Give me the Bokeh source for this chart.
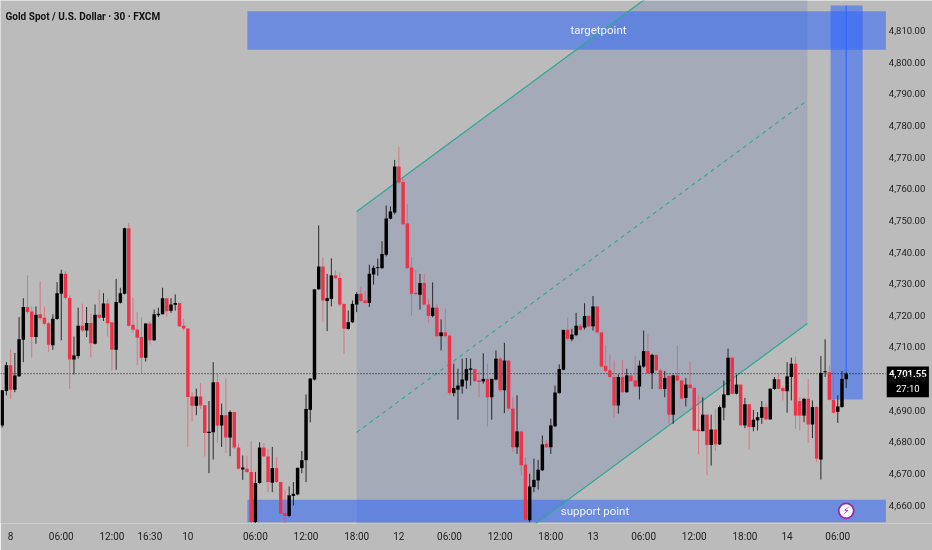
from bokeh.plotting import figure
from bokeh.embed import file_html
from bokeh.resources import INLINE
from bokeh.models import FixedTicker, Label, LinearAxis, Range1d, NumeralTickFormatter
from bokeh.core.properties import value

FONT = "Roboto"

directions = ("BBRBBBRRBR" "RRBBBRRBBR" "BRBRBRRBBB" "RRRRBRBBBR" "BBRRRRBRRB"
              "BRBRBRRBRR" "BBRRBRRRBB" "BBBBBBRBBR" "RRBBBRRBBB" "BBBBRRRRRB"
              "RRBRBRRBBB" "BBRRBRBBRB" "RRBRRBBBBR" "BBBBRBBRBR" "BRRRRRBRBR"
              "RBBRBRRBRB" "RRBRRRBRBR" "BBBRBRBRBB" "BRBBRRBBRR" "BRBRBBRRBBB")

body_tops = [
 4696.3,4704.2,4704.2,4701.0,4712.4,4722.6,4722.6,4721.2,4720.2,4720.3,
 4719.2,4717.5,4718.9,4727.0,4733.1,4733.1,4725.5,4707.3,4716.7,4716.7,
 4717.6,4717.6,4720.2,4720.2,4723.7,4723.7,4717.8,4724.2,4727.0,4747.5,
 4747.5,4717.0,4715.5,4713.1,4717.4,4717.4,4720.3,4720.5,4725.4,4725.4,
 4723.4,4723.9,4723.9,4716.7,4715.8,4694.3,4694.3,4694.3,4691.6,4683.2,
 4698.8,4698.8,4688.4,4688.4,4689.4,4689.4,4678.2,4671.9,4671.5,4670.5,
 4667.0,4678.2,4678.2,4675.4,4671.7,4671.7,4667.3,4657.5,4663.1,4663.6,
 4671.8,4674.2,4690.4,4700.0,4728.2,4735.4,4735.4,4725.4,4732.6,4732.6,
 4731.8,4723.6,4717.8,4723.6,4726.7,4726.8,4724.7,4733.1,4735.0,4735.2,
 4739.4,4750.6,4752.8,4767.0,4767.0,4762.1,4749.0,4735.1,4727.1,4730.2,
 4730.2,4723.4,4722.4,4722.4,4714.6,4714.6,4713.6,4697.0,4697.8,4699.7,
 4703.0,4703.2,4703.0,4699.4,4699.9,4699.9,4699.9,4706.3,4706.3,4705.7,
 4705.7,4690.5,4683.3,4683.3,4672.8,4665.9,4668.0,4671.2,4679.2,4679.4,
 4685.2,4695.6,4703.0,4715.4,4715.4,4713.9,4716.7,4716.7,4719.8,4719.8,
 4722.8,4722.8,4714.6,4704.0,4702.6,4700.5,4700.5,4700.5,4701.0,4701.0,
 4699.4,4704.1,4708.7,4708.7,4707.5,4707.5,4702.6,4700.2,4700.8,4701.0,
 4701.0,4699.4,4698.1,4698.1,4697.1,4683.9,4688.6,4688.6,4683.9,4683.9,
 4691.0,4695.0,4706.6,4706.6,4698.1,4698.1,4691.9,4691.9,4687.0,4687.8,
 4691.0,4691.0,4696.8,4699.8,4699.8,4697.0,4700.7,4704.7,4704.7,4692.9,
 4693.6,4693.6,4691.0,4691.0,4701.8,4702.3,4702.0,4693.3,4691.2,4699.9,4701.55]

body_bottoms = [
 4685.2,4696.1,4696.5,4696.5,4700.7,4712.3,4721.0,4713.1,4713.1,4719.1,
 4717.3,4710.7,4710.5,4718.8,4726.8,4725.5,4706.0,4706.0,4707.1,4715.2,
 4715.2,4711.2,4711.0,4719.2,4719.2,4717.5,4709.1,4709.1,4724.0,4726.8,
 4716.7,4715.4,4712.9,4706.6,4706.6,4712.1,4712.1,4720.0,4720.3,4721.3,
 4721.4,4723.3,4716.5,4715.8,4694.2,4691.4,4691.4,4691.5,4682.8,4682.8,
 4683.0,4685.2,4685.2,4681.4,4681.4,4678.2,4671.5,4671.3,4670.5,4654.7,
 4654.7,4667.0,4675.4,4667.3,4667.1,4667.3,4657.3,4656.6,4656.6,4662.9,
 4663.4,4671.7,4674.2,4690.1,4699.7,4728.2,4724.7,4724.5,4725.2,4731.7,
 4723.4,4715.8,4715.7,4717.8,4723.4,4724.5,4723.9,4723.9,4732.9,4734.9,
 4734.9,4739.1,4750.5,4752.5,4762.0,4748.8,4734.9,4726.8,4726.7,4726.5,
 4723.4,4719.8,4719.8,4713.4,4713.4,4713.4,4695.4,4695.4,4696.5,4697.5,
 4699.4,4702.8,4699.2,4698.9,4699.1,4694.1,4694.1,4699.7,4696.3,4696.3,
 4690.5,4678.3,4678.3,4672.6,4655.4,4655.2,4665.7,4667.8,4671.0,4678.3,
 4678.3,4684.9,4695.4,4702.8,4712.6,4712.4,4713.7,4715.4,4716.1,4716.5,
 4716.5,4714.6,4703.8,4702.4,4700.5,4691.5,4691.5,4695.7,4695.7,4699.2,
 4697.5,4697.5,4703.8,4701.7,4701.7,4702.6,4696.7,4696.7,4688.6,4688.6,
 4699.4,4693.7,4693.9,4697.0,4683.6,4683.4,4683.4,4679.0,4679.0,4679.2,
 4679.2,4690.8,4694.8,4695.2,4695.2,4685.2,4685.2,4684.7,4684.7,4686.8,
 4687.6,4687.1,4687.1,4696.7,4696.8,4696.0,4696.0,4700.5,4688.3,4688.3,
 4688.3,4685.5,4685.5,4674.7,4674.4,4702.0,4693.3,4689.2,4689.5,4691.0,4699.8]

highs = [
 4696.3,4705.2,4709.2,4708.1,4719.4,4725.4,4732.6,4722.8,4722.8,4730.7,
 4722.8,4717.9,4720.3,4730.5,4734.4,4734.0,4726.3,4713.3,4722.4,4723.7,
 4722.6,4720.5,4723.4,4728.1,4727.0,4725.2,4717.8,4731.5,4728.7,4747.7,
 4749.2,4725.5,4721.0,4719.4,4717.4,4718.2,4721.8,4722.4,4728.7,4725.4,
 4725.4,4726.6,4723.9,4718.9,4715.8,4695.7,4696.8,4698.6,4691.6,4692.9,
 4705.2,4701.5,4692.1,4700.0,4689.9,4689.4,4679.4,4675.7,4675.7,4680.2,
 4670.5,4679.9,4679.7,4677.8,4678.4,4675.2,4667.3,4664.7,4665.9,4667.3,
 4671.8,4677.1,4695.0,4700.2,4728.2,4748.4,4738.2,4733.1,4738.0,4734.2,
 4733.6,4723.6,4721.5,4724.7,4727.3,4729.1,4727.8,4736.0,4735.7,4737.9,
 4743.4,4754.7,4754.4,4769.1,4773.3,4763.1,4755.2,4738.4,4734.2,4733.1,
 4733.1,4725.2,4730.4,4723.4,4718.7,4722.1,4713.6,4704.7,4703.1,4706.3,
 4706.5,4706.3,4703.0,4702.6,4708.0,4704.7,4699.9,4708.9,4706.8,4711.3,
 4705.7,4694.1,4694.7,4683.3,4675.2,4669.9,4674.7,4674.3,4682.0,4680.7,
 4687.3,4697.8,4704.5,4715.4,4719.2,4715.7,4720.8,4717.3,4723.8,4719.9,
 4726.1,4722.8,4714.6,4710.5,4707.6,4705.7,4701.3,4705.9,4703.1,4701.2,
 4707.0,4705.7,4715.2,4714.1,4707.8,4707.5,4703.1,4702.4,4701.3,4701.2,
 4710.5,4699.6,4700.2,4705.4,4697.1,4694.7,4694.1,4688.6,4688.6,4690.5,
 4691.5,4699.4,4709.5,4707.0,4701.2,4698.1,4693.9,4691.9,4690.1,4689.4,
 4692.9,4692.2,4696.8,4700.5,4701.7,4697.5,4705.2,4706.6,4707.0,4694.1,
 4693.9,4699.8,4693.1,4691.4,4707.1,4712.4,4704.1,4702.6,4694.7,4702.4,4702.0]

lows = [
 4684.5,4694.7,4693.6,4695.7,4700.5,4705.2,4720.5,4706.6,4711.0,4718.4,
 4716.8,4708.4,4709.1,4718.6,4712.1,4725.0,4696.8,4701.3,4706.3,4714.7,
 4713.1,4706.8,4710.8,4718.9,4718.2,4713.3,4702.6,4702.8,4723.7,4726.6,
 4716.3,4714.7,4704.2,4701.7,4705.4,4710.8,4711.9,4719.4,4720.3,4719.6,
 4720.8,4721.5,4716.3,4715.2,4678.4,4686.6,4688.4,4690.5,4675.4,4670.1,
 4674.4,4679.6,4678.4,4676.5,4675.5,4677.8,4671.2,4668.0,4670.1,4654.3,
 4654.3,4666.8,4675.2,4664.1,4664.1,4667.0,4657.1,4654.3,4656.2,4659.9,
 4663.1,4670.1,4667.3,4686.2,4699.4,4728.1,4717.8,4715.0,4722.8,4731.5,
 4722.8,4707.8,4715.5,4717.6,4721.0,4724.2,4723.6,4722.6,4729.7,4732.5,
 4734.7,4738.6,4750.3,4751.9,4761.5,4748.4,4734.7,4719.9,4726.3,4721.8,
 4723.1,4717.8,4719.4,4713.1,4708.9,4713.1,4694.7,4694.4,4687.0,4695.2,
 4696.8,4697.8,4698.9,4694.1,4698.4,4684.9,4687.0,4699.4,4695.7,4689.1,
 4689.9,4676.8,4676.2,4669.4,4655.0,4654.6,4664.1,4664.9,4670.8,4678.1,
 4676.2,4684.7,4695.2,4702.6,4712.0,4711.8,4713.4,4715.2,4715.5,4716.3,
 4715.2,4714.2,4703.6,4702.0,4700.2,4687.6,4688.9,4695.5,4695.5,4699.0,
 4697.3,4693.4,4703.4,4701.5,4696.7,4702.4,4696.5,4694.1,4685.7,4685.7,
 4699.2,4693.4,4691.2,4696.8,4683.4,4676.0,4683.3,4669.4,4672.5,4677.1,
 4679.0,4686.8,4694.6,4695.0,4695.0,4685.0,4684.3,4677.5,4683.4,4683.6,
 4685.7,4686.8,4687.0,4696.5,4696.6,4693.1,4689.2,4693.1,4684.1,4683.6,
 4686.2,4679.6,4681.2,4673.6,4668.1,4700.5,4693.1,4688.9,4686.0,4690.8,4697.0]

price_ticks = [4660, 4670, 4680, 4690, 4700, 4710, 4720, 4730, 4740, 4750, 4760, 4770, 4780, 4790, 4800, 4810]
time_ticks = [2, 14, 26, 35, 44, 60, 72, 84, 94, 106, 118, 130, 140, 152, 164, 176, 186, 198]
time_labels = ["8", "06:00", "12:00", "16:30", "10", "06:00", "12:00", "18:00", "12", "06:00",
               "12:00", "18:00", "13", "06:00", "12:00", "18:00", "14", "06:00"]

last_price = 4701.55
price_scale_edge = 209.4
channel_x = [84.0, 190.8]
channel_upper = [4752.8, 4857.7]
channel_middle = [4683.0, 4787.9]
channel_lower = [4612.5, 4717.4]
target_zone = (58.1, 209.4, 4803.9, 4816.1)
support_zone = (58.1, 209.4, 4654.6, 4661.7)
vertical_zone = (196.3, 203.9, 4693.4, 4817.9)
price_tag = (209.6, 219.6, 4694.1, 4703.8)

p = figure(frame_width=932, frame_height=523, output_backend="svg", toolbar_location=None,
           x_range=Range1d(-0.403, 220.45), y_range=Range1d(4654.2, 4819.48),
           x_axis_type=None, y_axis_type=None,
           background_fill_color="#bbbbbb", border_fill_color="#bbbbbb",
           min_border_left=0, min_border_top=0, min_border_right=0, min_border_bottom=27,
           outline_line_color=None)
p.styles = {"position": "fixed", "left": "0px", "top": "0px"}
p.grid.visible = False

# channel
p.patch(channel_x + channel_x[::-1], channel_upper + channel_lower[::-1],
        fill_color="#5f77af", fill_alpha=0.25, line_color=None)

# zones
for left, right, bottom, top in (target_zone, support_zone, vertical_zone):
    p.quad(left=[left], right=[right], bottom=[bottom], top=[top],
           fill_color="#2962ff", fill_alpha=0.52, line_color=None)

teal = "#2fa892"
p.line(channel_x, channel_upper, line_color=teal, line_width=1.2)
p.line(channel_x, channel_lower, line_color=teal, line_width=1.2)
p.line(channel_x, channel_middle, line_color=teal, line_width=1.1, line_dash="4 4")

# marker line through the last bar
p.segment([200], [vertical_zone[3]], [200], [last_price], line_color="#2962ff", line_width=1)

# price line
p.line([-0.403, price_scale_edge], [last_price, last_price], line_color="#111111",
       line_width=1, line_dash="1 2")

# candles
xs = list(range(len(body_tops)))
for mark, body_col, wick_col, wick_alpha in (("B", "#000000", "#111111", 0.85),
                                             ("R", "#ee3248", "#ea4a5e", 0.6)):
    idx = [i for i in xs if directions[i] == mark]
    p.segment(idx, [highs[i] for i in idx], idx, [lows[i] for i in idx],
              line_color=wick_col, line_alpha=wick_alpha, line_width=1)
    p.vbar(x=idx, width=0.82, top=[body_tops[i] for i in idx], bottom=[body_bottoms[i] for i in idx],
           fill_color=body_col, line_color=None)

# zone labels
p.text([141.3], [4810.0], text=["targetpoint"], text_color="#eef1ff", text_align="center",
       text_baseline="middle", text_font=value(FONT), text_font_size="11.5px")
p.text([140.8], [4658.2], text=["support  point"], text_color="#eef1ff", text_align="center",
       text_baseline="middle", text_font=value(FONT), text_font_size="11.5px")

# badge
p.scatter([200], [4658.2], size=15, marker="circle", fill_color="#ffffff",
          line_color="#9c27b0", line_width=1.8)
p.text([200], [4658.2], text=["\u26a1"], text_color="#9c27b0", text_align="center",
       text_baseline="middle", text_font=value("DejaVu Sans"), text_font_size="10px")

# axes
right_axis = LinearAxis(ticker=FixedTicker(ticks=price_ticks), fixed_location=price_scale_edge,
                        formatter=NumeralTickFormatter(format="0,0.00"))
right_axis.axis_line_color = None
right_axis.major_tick_line_color = None
right_axis.minor_tick_line_color = None
right_axis.major_tick_out = 0
right_axis.major_tick_in = 0
right_axis.major_label_standoff = 3
right_axis.major_label_text_font = FONT
right_axis.major_label_text_font_size = "9.5px"
right_axis.major_label_text_color = "#222222"
p.add_layout(right_axis, "right")

bottom_axis = LinearAxis(ticker=FixedTicker(ticks=time_ticks),
                         major_label_overrides=dict(zip(time_ticks, time_labels)))
bottom_axis.axis_line_color = None
bottom_axis.major_tick_line_color = None
bottom_axis.minor_tick_line_color = None
bottom_axis.major_tick_out = 0
bottom_axis.major_tick_in = 0
bottom_axis.major_label_standoff = 7
bottom_axis.major_label_text_font = FONT
bottom_axis.major_label_text_font_size = "10px"
bottom_axis.major_label_text_color = "#222222"
p.add_layout(bottom_axis, "below")

# header
p.add_layout(Label(x=5, y=507, x_units="screen", y_units="screen",
                   text="Gold Spot / U.S. Dollar \u00b7 30 \u00b7 FXCM",
                   text_font=FONT, text_font_size="10px", text_font_style="bold",
                   text_color="#111111", text_baseline="middle"))

# last-price tag
left, right, bottom, top = price_tag
p.quad(left=[left], right=[right], bottom=[bottom], top=[top], fill_color="#000000", line_color=None)
p.text([(left + right) / 2], [4701.55], text=["4,701.55"], text_color="#ffffff", text_align="center",
       text_baseline="middle", text_font=value(FONT), text_font_size="9.5px", text_font_style="bold")
p.text([(left + right) / 2], [4696.9], text=["27:10"], text_color="#ffffff", text_align="center",
       text_baseline="middle", text_font=value(FONT), text_font_size="9.5px")

open("out.html", "w").write(file_html(p, INLINE))
